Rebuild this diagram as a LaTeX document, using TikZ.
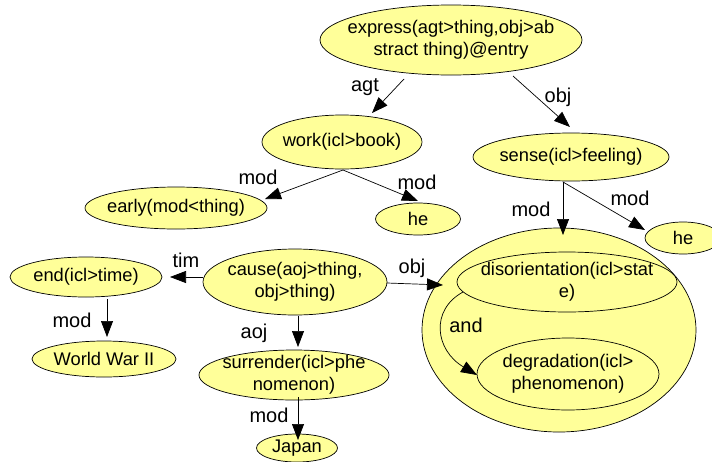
\documentclass[tikz,border=0pt]{standalone}
\usepackage{fontspec}
\setmainfont{Liberation Sans}
\usetikzlibrary{shapes.geometric,arrows.meta,calc}
\definecolor{nodefill}{HTML}{FFFF99}
\begin{document}
\begin{tikzpicture}[x=1pt,y=-1pt,
  ell/.style 2 args={ellipse,draw=black,line width=0.7pt,fill=nodefill,minimum width=#1pt,minimum height=#2pt,inner sep=0pt},
  txt/.style={font=\fontsize{18.3}{21.5}\selectfont,align=center,inner sep=0pt},
  lbl/.style={font=\fontsize{20}{22}\selectfont,inner sep=0pt},
  edge/.style={line width=0.7pt,-{Triangle[length=16pt,width=12pt]}},
]
\useasboundingbox (0,0) rectangle (712,461);

% nodes
\node[ell={262}{70},label={[txt]center:{express(agt>thing,obj>ab\\stract thing)@entry}}] (express) at (451,40) {};
\node[ell={160}{54},label={[txt]center:{work(icl>book)}}] (work) at (342,142) {};
\node[ell={182}{42},label={[txt]center:{early(mod<thing)}}] (early) at (176,208) {};
\node[ell={85}{32},label={[txt]center:{he}}] (he1) at (418,219) {};
\node[ell={196}{48},label={[txt]center:{sense(icl>feeling)}}] (sense) at (571,157) {};
\node[ell={76}{32},label={[txt]center:{he}}] (he2) at (683,238) {};
\node[ell={274}{204}] (big) at (559,330) {};
\node[ell={220}{60},label={[txt]center:{disorientation(icl>stat\\e)}}] (dis) at (567,282) {};
\node[ell={182}{72},label={[txt]center:{degradation(icl>\\phenomenon)}}] (deg) at (568,374) {};
\node[ell={184}{66},label={[txt]center:{cause(aoj>thing,\\obj>thing)}}] (cause) at (295,282) {};
\node[ell={152}{40},label={[txt]center:{end(icl>time)}}] (endn) at (86,277) {};
\node[ell={144}{36},label={[txt]center:{World War II}}] (wwii) at (104,359) {};
\node[ell={190}{50},label={[txt]center:{surrender(icl>phe\\nomenon)}}] (surr) at (294,375) {};
\node[ell={81}{28},label={[txt]center:{Japan}}] (japan) at (297,448) {};

% connectors
\draw[edge] ($(express)+(-47,39)$) -- ($(work)+(30,-29)$);
\draw[edge] ($(express)+(62,36)$) -- ($(sense)+(-1,-30)$);
\draw[edge] ($(work)+(1,28)$) -- ($(early)+(89,-9)$);
\draw[edge] ($(work)+(1,28)$) -- ($(he1)+(0,-18)$);
\draw[edge] ($(sense)+(-8,25)$) -- ($(big)+(4,-95)$);
\draw[edge] ($(sense)+(-8,25)$) -- ($(he2)+(-38,-8)$);
\draw[edge] ($(cause)+(92,1)$) -- ($(big)+(-116,-45)$);
\draw[edge] ($(dis)+(-104,10)$) .. controls ($(dis)+(-137,28)$) and ($(deg)+(-133,-24)$) .. ($(deg)+(-91,1)$);
\draw[edge] ($(cause)+(-92,-5)$) -- ($(endn)+(84,0)$);
\draw[edge] ($(endn)+(21,22)$) -- ($(wwii)+(3,-22)$);
\draw[edge] ($(cause)+(3,34)$) -- ($(surr)+(4,-28)$);
\draw[edge] ($(surr)+(4,22)$) -- ($(japan)+(1,-8)$);

% connector labels
\node[lbl] (l1) at (365,87) {agt};
\node[lbl] (l2) at (558,97) {obj};
\node[lbl] (l3) at (258,177) {mod};
\node[lbl] (l4) at (417,182) {mod};
\node[lbl] (l5) at (531,209) {mod};
\node[lbl] (l6) at (630,198) {mod};
\node[lbl] (l7) at (412,268) {obj};
\node[lbl] (l8) at (466,325) {and};
\node[lbl] (l9) at (186,260) {tim};
\node[lbl] (l10) at (72,320) {mod};
\node[lbl] (l11) at (254,333) {aoj};
\node[lbl] (l12) at (269,415) {mod};
\end{tikzpicture}
\end{document}
